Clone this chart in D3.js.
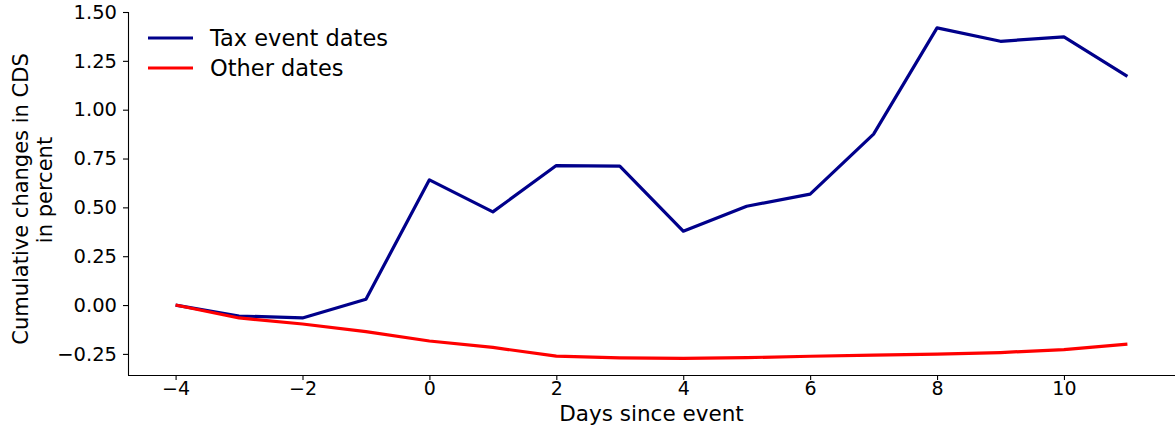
<!DOCTYPE html>
<html>
<head>
<meta charset="utf-8">
<script src="https://cdn.jsdelivr.net/npm/d3@7"></script>
<style>
  html, body { margin: 0; padding: 0; background: #fff; }
  svg { display: block; font-family: "DejaVu Sans", sans-serif; }
</style>
</head>
<body>
<svg id="chart" width="1175" height="427"></svg>
<script>
// Event-window days and cumulative CDS changes (percent)
const days = [-4, -3, -2, -1, 0, 1, 2, 3, 4, 5, 6, 7, 8, 9, 10, 11];
const taxEvent = [0.00, -0.056, -0.066, 0.03, 0.641, 0.477, 0.714, 0.711, 0.378, 0.506, 0.568, 0.875, 1.419, 1.350, 1.373, 1.171];
const otherDates = [0.00, -0.066, -0.097, -0.136, -0.184, -0.217, -0.261, -0.270, -0.273, -0.269, -0.262, -0.256, -0.251, -0.243, -0.228, -0.200];
const xTicks = [-4, -2, 0, 2, 4, 6, 8, 10];
const yTicks = [-0.25, 0.00, 0.25, 0.50, 0.75, 1.00, 1.25, 1.50];
const seriesNames = ["Tax event dates", "Other dates"];
const seriesColors = ["#00008b", "#ff0000"];

const svg = d3.select("#chart");
const margin = { left: 128, right: 0, top: 12, bottom: 52 };
const W = 1175, H = 427;

const x = d3.scaleLinear().domain([-4.75, 11.75]).range([margin.left, W - margin.right]);
const y = d3.scaleLinear().domain([-0.358, 1.50]).range([H - margin.bottom, margin.top]);

const fmtY = v => {
  const s = d3.format(".2f")(Math.abs(v));
  return v < 0 ? "\u2212" + s : s;
};
const fmtX = v => v < 0 ? "\u2212" + Math.abs(v) : String(v);

// Axes
const xAxis = svg.append("g")
  .attr("transform", `translate(0,${H - margin.bottom})`)
  .call(d3.axisBottom(x).tickValues(xTicks).tickFormat(fmtX).tickSize(5).tickPadding(2));
const yAxis = svg.append("g")
  .attr("transform", `translate(${margin.left},0)`)
  .call(d3.axisLeft(y).tickValues(yTicks).tickFormat(fmtY).tickSize(5).tickPadding(6));

[xAxis, yAxis].forEach(g => {
  g.selectAll("path.domain").attr("stroke", "#000").attr("stroke-width", 1.1);
  g.selectAll(".tick line").attr("stroke", "#000").attr("stroke-width", 1.1);
  g.selectAll(".tick text").attr("fill", "#000").style("font-size", "19.5px")
    .style("font-family", "'DejaVu Sans', sans-serif");
});
xAxis.selectAll(".tick text").style("font-size", "19px");
// spines without outer tick caps
xAxis.select("path.domain").attr("d", `M${margin.left},0.5H${W}`);
yAxis.select("path.domain").attr("d", `M0.5,${margin.top}V${H - margin.bottom}`);

// Axis titles
svg.append("text")
  .attr("x", (margin.left + W - margin.right) / 2).attr("y", 420.5)
  .attr("text-anchor", "middle")
  .style("font-size", "21.5px")
  .text("Days since event");

svg.append("text")
  .attr("transform", "translate(28,199) rotate(-90)")
  .attr("text-anchor", "middle")
  .style("font-size", "21px")
  .text("Cumulative changes in CDS");
svg.append("text")
  .attr("transform", "translate(52,190) rotate(-90)")
  .attr("text-anchor", "middle")
  .style("font-size", "21px")
  .text("in percent");

// Lines
const line = d3.line().x((d, i) => x(days[i])).y(d => y(d));
[taxEvent, otherDates].forEach((s, k) => {
  svg.append("path")
    .datum(s)
    .attr("fill", "none")
    .attr("stroke", seriesColors[k])
    .attr("stroke-width", 3.2)
    .attr("stroke-linejoin", "round")
    .attr("d", line);
});

// Legend
const legend = svg.append("g");
seriesNames.forEach((name, k) => {
  const ly = 38 + k * 30;
  legend.append("line")
    .attr("x1", 148).attr("x2", 193)
    .attr("y1", ly).attr("y2", ly)
    .attr("stroke", seriesColors[k]).attr("stroke-width", 3.2);
  legend.append("text")
    .attr("x", 210).attr("y", ly + 8)
    .style("font-size", "22.5px")
    .text(name);
});
</script>
</body>
</html>
